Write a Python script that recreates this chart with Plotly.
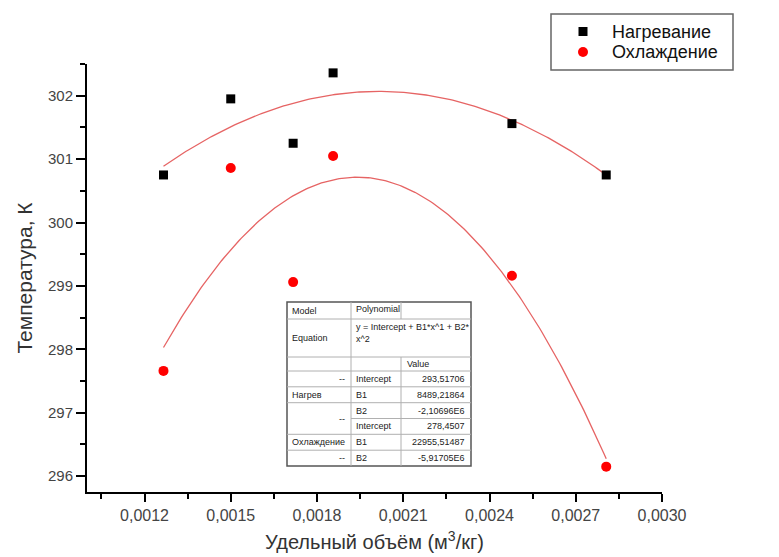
import numpy as np
import plotly.graph_objects as go

# ---------------- data ----------------
spec_volume = [0.001266, 0.0015, 0.001717, 0.001856, 0.002478, 0.002806]
heating_T = [300.75, 301.95, 301.25, 302.36, 301.56, 300.75]
cooling_T = [297.66, 300.86, 299.06, 301.05, 299.16, 296.15]

# polynomial fit coefficients (Intercept, B1, B2) shown in the chart's table
heating_fit = [293.51706, 8489.21864, -2.10696e6]
cooling_fit = [278.4507, 22955.51487, -5.91705e6]

x_tickvals = [0.0012, 0.0015, 0.0018, 0.0021, 0.0024, 0.0027, 0.0030]
x_ticktext = ["0,0012", "0,0015", "0,0018", "0,0021", "0,0024", "0,0027", "0,0030"]
y_tickvals = [296, 297, 298, 299, 300, 301, 302]

series_names = ["Нагревание", "Охлаждение"]

table_rows = [
    # col1, col2, col3
    ["--", "Intercept", "293,51706"],
    ["Нагрев", "B1", "8489,21864"],
    ["", "B2", "-2,10696E6"],
    ["", "Intercept", "278,4507"],
    ["Охлаждение", "B1", "22955,51487"],
    ["--", "B2", "-5,91705E6"],
]

# ---------------- figure ----------------
W, H = 779, 557
PL, PR, PT, PB = 87, 662, 64, 492

def fx(p):
    return (p - PL) / (PR - PL)

def fy(p):
    return (PB - p) / (PB - PT)

fig = go.Figure()

xs = np.linspace(spec_volume[0], spec_volume[-1], 200)
for coef in (heating_fit, cooling_fit):
    ys = coef[0] + coef[1] * xs + coef[2] * xs ** 2
    fig.add_trace(go.Scatter(x=xs, y=ys, mode="lines",
                             line=dict(color="rgb(230,100,100)", width=1.3),
                             showlegend=False, hoverinfo="skip"))

fig.add_trace(go.Scatter(x=spec_volume, y=heating_T, mode="markers", name=series_names[0],
                         marker=dict(symbol="square", size=9, color="black"), showlegend=False))
fig.add_trace(go.Scatter(x=spec_volume, y=cooling_T, mode="markers", name=series_names[1],
                         marker=dict(symbol="circle", size=10, color="#ff0000"), showlegend=False))

shapes = []

# ---------------- legend (drawn as a box) ----------------
LEG_Y = (31.5, 52)
shapes.append(dict(type="rect", xref="paper", yref="paper",
                   x0=fx(551), x1=fx(733), y0=fy(70), y1=fy(14),
                   line=dict(color="#666666", width=1.5), fillcolor="white"))
shapes.append(dict(type="rect", xref="paper", yref="paper",
                   x0=fx(578.5), x1=fx(587.5), y0=fy(LEG_Y[0] + 4.5), y1=fy(LEG_Y[0] - 4.5),
                   line=dict(width=0), fillcolor="black"))
shapes.append(dict(type="circle", xref="paper", yref="paper",
                   x0=fx(578), x1=fx(588), y0=fy(LEG_Y[1] + 5), y1=fy(LEG_Y[1] - 5),
                   line=dict(width=0), fillcolor="#ff0000"))
lfont = dict(family="Liberation Sans, Arial", size=18, color="#111111")
for name, yc in zip(series_names, LEG_Y):
    fig.add_annotation(text=name, x=fx(610), y=fy(yc), xref="paper", yref="paper",
                       xanchor="left", yanchor="middle", showarrow=False, font=lfont)

# ---------------- table (fit results) ----------------
TL, TR = 287, 471
C1, C2 = 351, 401
rows_y = [371, 386.8, 402.7, 418.5, 434.3, 450.2, 466]
inner = dict(color="#b0b0b0", width=1)

def hline(y, x0, x1):
    shapes.append(dict(type="line", xref="paper", yref="paper",
                       x0=fx(x0), x1=fx(x1), y0=fy(y), y1=fy(y), line=inner))

def vline(x, y0, y1):
    shapes.append(dict(type="line", xref="paper", yref="paper",
                       x0=fx(x), x1=fx(x), y0=fy(y0), y1=fy(y1), line=inner))

shapes.append(dict(type="rect", xref="paper", yref="paper",
                   x0=fx(TL), x1=fx(TR), y0=fy(466), y1=fy(302),
                   line=dict(color="#555555", width=1.5), fillcolor="white", layer="above"))
for y in (319, 357, 371):
    hline(y, TL, TR)
for y in (386.8, 402.7, 434.3, 450.2):
    hline(y, TL, TR)
hline(418.5, C1, TR)
vline(C1, 302, 466)
vline(C2, 302, 319)
vline(C2, 357, 466)
fig.update_layout(shapes=shapes)

tfont = dict(family="Liberation Sans, Arial", size=9, color="#222222")

def txt(s, x, y, xa="left", ya="middle"):
    fig.add_annotation(text=s, x=fx(x), y=fy(y), xref="paper", yref="paper",
                       xanchor=xa, yanchor=ya, showarrow=False, font=tfont, align="left")

txt("Model", 290, 310.5)
txt("Polynomial", 354, 309)
txt("Equation", 290, 338)
txt("y = Intercept + B1*x^1 + B2*<br>x^2", 354, 320, ya="top")
txt("Value", 405, 364)
for i, (a, b, c) in enumerate(table_rows):
    yc = (rows_y[i] + rows_y[i + 1]) / 2
    if a == "--":
        txt(a, 347, yc, xa="right")
    elif a:
        txt(a, 290, yc)
    txt(b, 354, yc)
    txt(c, 467, yc, xa="right")
txt("--", 347, rows_y[3], xa="right")

# ---------------- layout ----------------
tickfont = dict(family="Liberation Sans, Arial", size=15, color="#444444")
titlefont = dict(family="Liberation Sans, Arial", size=20, color="#333333")

fig.update_layout(
    width=W, height=H,
    margin=dict(l=PL, r=W - PR, t=PT, b=H - PB, pad=0, autoexpand=False),
    paper_bgcolor="white", plot_bgcolor="white",
    showlegend=False,
    xaxis=dict(range=[0.0010, 0.0030], tickvals=x_tickvals, ticktext=x_ticktext,
               automargin=False,
               showline=True, linecolor="black", linewidth=2, mirror=False,
               ticks="outside", ticklen=8, tickwidth=1.5, tickcolor="black",
               minor=dict(ticks="outside", ticklen=5, tickwidth=1.5, tickcolor="black",
                          tick0=0.0012, dtick=0.00015, showgrid=False),
               showgrid=False, zeroline=False, tickfont=dict(tickfont, size=16),
               title=dict(text="Удельный объём (м<sup>3</sup>/кг)", font=titlefont, standoff=12)),
    yaxis=dict(range=[295.75, 302.5], tickvals=y_tickvals,
               automargin=False,
               showline=True, linecolor="black", linewidth=2, mirror=False,
               ticks="outside", ticklen=9, tickwidth=1.5, tickcolor="black",
               minor=dict(ticks="outside", ticklen=5, tickwidth=1.5, tickcolor="black",
                          tick0=296, dtick=0.5, showgrid=False),
               showgrid=False, zeroline=False, tickfont=tickfont,
               title=dict(text="Температура, К", font=dict(titlefont, size=21), standoff=10)),
)

fig.write_html("out.html", config={"displayModeBar": False},
               post_script="document.body.style.margin='0';document.body.style.padding='0';")
